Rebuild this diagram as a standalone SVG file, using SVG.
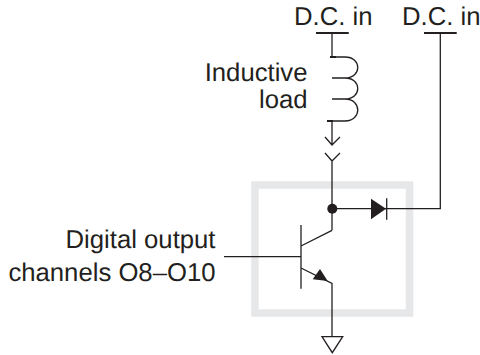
<svg xmlns="http://www.w3.org/2000/svg" width="480" height="355" viewBox="0 0 480 355">
<style>
text{font-family:"Liberation Sans",Arial,sans-serif;font-size:25.700px;fill:#231f20;text-rendering:geometricPrecision}
.e{text-anchor:end}
.w{fill:none;stroke:#231f20;stroke-width:1.3}
.b{fill:none;stroke:#231f20;stroke-width:2.2}
.f{fill:#231f20;stroke:none}
</style>
<rect x="255" y="185" width="154.500" height="128" fill="none" stroke="#e6e7e8" stroke-width="7.500"/>
<g id="labels">
<text x="294" y="25">D.C. in</text>
<text x="402" y="25">D.C. in</text>
<text class="e" x="307.500" y="81">Inductive</text>
<text class="e" x="307.500" y="108">load</text>
<text class="e" x="215.500" y="248">Digital output</text>
<text class="e" x="215.500" y="281">channels O8–O10</text>
</g>
<g id="connectors">
<path class="w" d="M332 33V57M332 121V145M325 137L332 145L340 137M325 153L332 161L340 153M332 161V230.300M332 208.700H440.300V33M224 256.700H301M301 246L332 230.300M301 268L332 283.300V336.700"/>
</g>
<g id="dc1"><path class="b" d="M316 33H348.700"/></g>
<g id="dc2"><path class="b" d="M424 33H456.700"/></g>
<g id="inductor">
<path class="w" d="M332 57H345C362 57 362 78 345 78H332M345 78C362 78 362 99 345 99H332M345 99C362 99 362 121 345 121H327"/>
<path class="b" d="M330 57H336M327 121H333"/>
</g>
<g id="junction"><circle class="f" cx="332.300" cy="208.700" r="5"/></g>
<g id="diode">
<path class="f" d="M371 198.700L386 208.700L371 219.300Z"/>
<path class="w" d="M386.700 198.300V219.700"/>
</g>
<g id="transistor">
<path class="w" d="M301 225V288.700"/>
<path class="f" d="M327.700 281L312.700 279.300L320 269Z"/>
</g>
<g id="ground"><path class="w" d="M322 336.700H342.700L332.300 352.700Z"/></g>
</svg>
